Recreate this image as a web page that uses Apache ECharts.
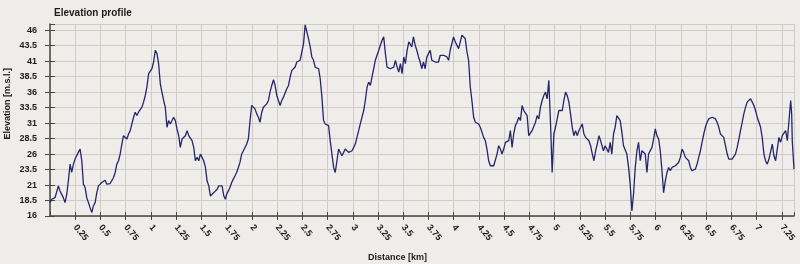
<!DOCTYPE html>
<html>
<head>
<meta charset="utf-8">
<script src="https://cdn.jsdelivr.net/npm/echarts@6/dist/echarts.min.js"></script>
<style>
html,body{margin:0;padding:0;background:#efedea;}
#c{width:800px;height:264px;}
</style>
</head>
<body>
<div id="c"></div>
<script>
var titleText = "Elevation profile";
var yAxisTitle = "Elevation [m.s.l.]";
var xAxisTitle = "Distance [km]";
var yTickMin = 16, yTickStep = 2.5;
var xTickStep = 0.25;

var distanceKm = [
0.000,0.017,0.033,0.050,0.066,0.083,0.099,0.116,0.132,0.149,0.166,0.182,0.199,0.215,0.232,0.248,0.265,0.281,0.298,0.315,
0.331,0.348,0.364,0.381,0.397,0.414,0.430,0.447,0.464,0.480,0.497,0.513,0.530,0.546,0.563,0.579,0.596,0.613,0.629,0.646,
0.662,0.679,0.695,0.712,0.728,0.745,0.762,0.778,0.795,0.811,0.828,0.844,0.861,0.877,0.894,0.911,0.927,0.944,0.960,0.977,
0.993,1.010,1.026,1.043,1.060,1.076,1.093,1.109,1.126,1.142,1.159,1.175,1.192,1.209,1.225,1.242,1.258,1.275,1.291,1.308,
1.325,1.341,1.358,1.374,1.391,1.407,1.424,1.440,1.457,1.474,1.490,1.507,1.523,1.540,1.556,1.573,1.589,1.606,1.623,1.639,
1.656,1.672,1.689,1.705,1.722,1.738,
1.750,1.767,1.783,1.800,1.816,1.833,1.849,1.866,1.882,1.899,1.916,1.932,1.949,1.965,1.982,1.998,2.015,2.031,2.048,2.065,
2.081,2.098,2.114,2.131,2.147,2.164,2.180,2.197,2.214,2.230,2.247,2.263,2.280,2.296,2.313,2.329,2.346,2.363,2.379,2.396,
2.412,2.429,2.445,2.462,2.478,2.495,2.512,2.528,2.545,2.561,2.578,2.594,2.611,2.627,2.644,2.661,2.677,2.694,2.710,2.727,
2.743,2.760,2.776,2.793,2.810,2.826,2.843,2.859,2.876,2.892,2.909,2.925,2.942,2.959,2.975,2.992,3.008,3.025,3.041,3.058,
3.074,3.091,3.108,3.124,3.141,3.157,3.174,3.190,3.207,3.223,3.240,3.257,3.273,3.290,3.306,3.323,3.339,3.356,3.372,3.389,
3.406,3.422,3.439,3.455,3.472,3.488,3.505,3.521,3.538,3.555,3.571,
3.584,3.601,3.618,3.634,3.651,3.667,3.684,3.700,3.717,3.733,3.750,3.767,3.783,3.800,3.816,3.833,3.849,3.866,3.882,3.899,
3.916,3.932,3.949,3.965,3.982,3.998,4.015,4.031,4.048,4.065,4.081,4.098,4.114,4.131,4.147,4.164,4.180,4.197,4.214,4.230,
4.247,4.263,4.280,4.296,4.313,4.329,4.346,4.363,4.379,4.396,4.412,4.429,4.445,4.462,4.478,4.495,4.512,4.528,4.545,4.561,
4.578,4.594,4.611,4.627,4.644,4.661,4.677,4.694,4.710,4.727,4.743,4.760,4.776,4.793,4.810,4.826,4.843,4.859,4.876,4.892,
4.909,4.925,4.942,4.959,4.975,4.992,5.008,5.025,5.041,5.058,5.075,5.091,5.108,5.124,5.141,5.157,5.174,5.190,5.207,5.224,
5.240,5.257,5.273,5.290,5.306,5.323,5.339,5.356,5.373,5.389,5.406,5.422,5.439,5.455,
5.483,5.500,5.517,5.533,5.550,5.566,5.583,5.599,5.616,5.632,5.649,5.666,5.682,5.699,5.715,5.732,5.748,5.765,5.781,5.798,
5.815,5.831,5.848,5.864,5.881,5.897,5.914,5.930,5.947,5.964,5.980,5.997,6.013,6.030,6.046,6.063,6.079,6.096,6.113,6.129,
6.146,6.162,6.179,6.195,6.212,6.228,6.245,6.262,6.278,6.295,6.311,6.328,6.344,6.361,6.377,6.394,6.411,6.427,6.444,6.460,
6.477,6.493,6.510,6.526,6.543,6.560,6.576,6.593,6.609,6.626,6.642,6.659,6.675,6.692,6.709,6.725,6.742,6.758,6.775,6.791,
6.808,6.825,6.841,6.858,6.874,6.891,6.907,6.924,6.940,6.957,6.974,6.990,7.007,7.023,7.040,7.056,7.073,7.089,7.106,7.123,
7.139,7.156,7.172,7.189,7.205,7.222,7.238,7.255,7.272,7.288,7.305,7.321,7.338,7.348,7.354,7.364,7.371
];

var elevationM = [
18.16,18.70,18.43,18.97,18.70,20.86,20.05,19.78,18.97,18.16,19.51,21.68,24.38,23.03,24.38,25.19,25.46,26.27,26.81,24.92,
21.14,20.59,18.97,18.16,17.35,16.54,17.62,18.16,19.78,20.86,20.59,21.41,21.14,21.78,21.14,20.86,21.24,21.41,22.22,23.03,
24.38,24.92,26.00,27.62,28.97,28.97,28.43,29.24,29.78,30.86,31.95,32.76,32.22,32.76,32.76,33.57,34.38,35.46,36.81,38.97,
38.97,39.78,40.86,42.76,42.22,40.59,37.35,36.00,34.65,33.57,30.32,31.41,30.86,31.41,31.95,31.41,30.05,28.97,27.08,28.43,
28.70,28.97,29.78,28.97,28.97,28.16,27.08,24.92,25.46,24.92,26.00,25.46,24.92,23.84,21.68,20.86,19.24,18.97,19.78,20.05,
20.32,20.86,21.14,20.86,19.24,18.70,
19.51,20.05,20.59,21.41,21.95,22.49,23.03,23.84,24.65,26.00,26.54,26.81,27.62,28.43,31.41,33.84,33.84,33.30,32.49,31.95,
31.14,32.76,33.57,33.84,34.11,34.65,36.00,37.08,38.00,37.08,35.46,34.65,33.84,34.65,35.19,35.46,36.54,37.08,38.43,39.51,
39.24,40.05,40.86,41.14,41.14,41.14,43.84,46.86,45.73,44.65,43.30,41.68,41.14,40.05,39.78,39.78,38.16,35.19,31.41,30.86,
30.86,30.59,28.16,26.00,23.84,23.03,24.92,26.81,26.54,25.73,26.27,26.81,26.54,26.27,26.00,26.54,26.81,27.62,28.70,29.78,
30.86,31.95,33.03,34.65,36.81,37.62,37.08,38.43,39.78,41.14,41.95,42.76,43.57,44.38,44.92,42.22,40.05,39.78,39.78,39.78,
40.05,41.14,40.05,39.24,40.59,38.97,41.68,40.59,42.76,44.11,43.84,
43.30,44.92,43.57,42.76,41.68,40.86,39.78,40.86,39.78,41.68,42.22,42.76,41.14,40.86,40.86,40.86,40.86,41.95,42.22,41.95,
42.22,41.68,41.14,42.76,42.76,44.92,44.11,43.84,43.03,44.11,45.19,45.19,44.65,42.49,41.14,36.81,34.65,31.95,31.14,30.86,
30.86,30.32,29.51,28.70,28.16,26.81,24.92,24.11,23.84,24.11,23.84,26.00,27.35,26.81,26.00,26.81,27.89,27.89,28.16,29.78,
27.08,29.24,30.59,31.14,31.95,31.41,33.84,33.03,33.03,32.22,28.97,28.97,29.78,30.05,31.14,32.22,31.68,33.57,34.65,35.46,
36.00,34.92,37.89,30.86,23.03,29.24,30.32,31.68,33.03,33.03,33.03,34.65,36.00,35.46,34.38,32.49,30.32,28.97,29.78,28.97,
29.78,30.32,30.86,29.24,28.70,28.97,28.16,27.35,26.00,24.92,26.54,27.62,28.97,28.16,
26.54,27.35,27.62,26.27,27.89,26.00,29.24,30.32,32.22,31.95,31.41,29.51,27.35,27.08,26.00,23.84,21.14,16.81,19.51,23.84,
26.54,27.89,24.92,26.54,26.81,26.00,23.03,26.00,25.73,27.08,28.43,30.05,28.97,28.43,26.54,23.30,19.78,21.68,23.03,23.84,
23.30,23.84,24.11,24.11,24.11,24.65,25.46,26.81,26.27,25.46,25.19,24.92,23.84,23.30,23.03,23.57,24.38,25.46,26.54,27.89,
29.24,30.32,31.14,31.68,31.95,31.95,31.95,31.68,31.14,30.32,29.24,28.97,28.70,27.35,26.00,25.19,24.92,25.19,25.46,26.00,
27.08,28.43,29.78,31.14,32.49,33.57,34.38,34.65,34.92,34.38,33.84,33.03,31.95,31.68,30.32,28.70,26.00,24.92,24.38,25.19,
24.92,27.62,25.73,24.92,26.81,28.70,27.89,28.97,29.24,29.78,28.16,27.89,34.65,32.49,28.16,25.46,23.57
];

var series = [];
for (var i = 0; i < distanceKm.length; i++) series.push([distanceKm[i], elevationM[i]]);

var fontFam = '"Liberation Sans", Arial, sans-serif';
var axisCol = '#4a4540';
var gridCol = '#cfccc8';
var labelCol = '#1c1c1c';
var xMax = distanceKm[distanceKm.length - 1];

var chart = echarts.init(document.getElementById('c'), null, {renderer: 'canvas'});
chart.setOption({
  backgroundColor: '#efedea',
  animation: false,
  title: {
    text: titleText, left: 49, top: 3,
    textStyle: {fontFamily: fontFam, fontSize: 10, fontWeight: 'bold', color: '#1c1c1c'}
  },
  graphic: [
    {type: 'text', left: 3, top: 68, rotation: Math.PI / 2,
     style: {text: yAxisTitle, fontFamily: fontFam, fontSize: 9, fontWeight: 'bold', fill: labelCol}},
    {type: 'text', left: 368, top: 253,
     style: {text: xAxisTitle, fontFamily: fontFam, fontSize: 9, fontWeight: 'bold', fill: labelCol}}
  ],
  grid: {left: 50, right: 6, top: 24, bottom: 48, containLabel: false},
  xAxis: [
    {type: 'value', position: 'bottom', min: 0, max: xMax, interval: xTickStep,
     axisLine: {show: true, onZero: false, lineStyle: {color: axisCol, width: 1.5}},
     axisTick: {show: true, length: 4, lineStyle: {color: axisCol, width: 1}},
     axisLabel: {show: true, rotate: -50, margin: 10, showMinLabel: false, showMaxLabel: false,
       fontFamily: fontFam, fontSize: 9, fontWeight: 'bold', color: labelCol},
     splitLine: {show: true, lineStyle: {color: gridCol, width: 1}}},
    {type: 'value', position: 'bottom', min: 0, max: xMax, interval: xTickStep,
     axisLine: {show: false, onZero: false},
     axisTick: {show: true, inside: true, length: 4, lineStyle: {color: axisCol, width: 1}},
     axisLabel: {show: false}, splitLine: {show: false}}
  ],
  yAxis: [
    {type: 'value', position: 'left', min: yTickMin, max: 47, interval: yTickStep,
     axisLine: {show: true, onZero: false, lineStyle: {color: axisCol, width: 1.5}},
     axisTick: {show: true, length: 5, lineStyle: {color: axisCol, width: 1}},
     axisLabel: {show: true, margin: 13, showMaxLabel: false,
       fontFamily: fontFam, fontSize: 9, fontWeight: 'bold', color: labelCol},
     splitLine: {show: true, lineStyle: {color: gridCol, width: 1}}},
    {type: 'value', position: 'left', min: yTickMin, max: 47, interval: yTickStep,
     axisLine: {show: false, onZero: false},
     axisTick: {show: true, inside: true, length: 5, lineStyle: {color: axisCol, width: 1}},
     axisLabel: {show: false}, splitLine: {show: false}}
  ],
  series: [{
    type: 'line', xAxisIndex: 0, yAxisIndex: 0, data: series,
    showSymbol: false, smooth: false,
    lineStyle: {color: '#25256a', width: 1.3}
  }]
});
</script>
</body>
</html>
